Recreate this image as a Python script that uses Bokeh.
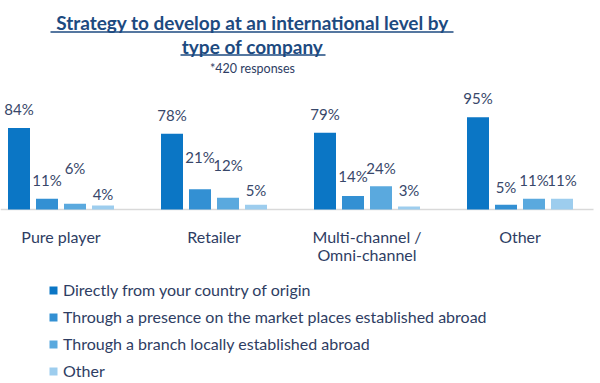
from bokeh.plotting import figure
from bokeh.models import (ColumnDataSource, Range1d, Legend, LegendItem)
from bokeh.core.properties import value
from bokeh.embed import file_html
from bokeh.resources import INLINE

# ---- data ----
companies = ["Pure player", "Retailer", "Multi-channel /\nOmni-channel", "Other"]
series_names = ["Directly from your country of origin",
                "Through a presence on the market places established abroad",
                "Through a branch locally established abroad",
                "Other"]
direct = [84, 78, 79, 95]
market_places = [11, 21, 14, 5]
branch = [6, 12, 24, 11]
other = [4, 5, 3, 11]
series_values = [direct, market_places, branch, other]
title_lines = ["Strategy to develop at an international level by", "type of company"]
subtitle = "*420 responses"

# ---- style / layout ----
colors = ["#0b76c5", "#3390d3", "#5aa9de", "#9dcdee"]
label_lift_px = [[19, 19, 19, 19],
                 [19, 32, 20, 18],
                 [36, 33, 18, 19],
                 [12, 15, 17, 19]]
FONT = "Lato"
TEXT_COLOR = "#2e3d63"
LABEL_COLOR = "#38476a"
TITLE_COLOR = "#1d4a80"

W, H = 600, 383            # canvas == frame, placed at page (0, 0)
PX_PER_X = 153.0           # pixels per category
PX_PER_PCT = 0.97          # pixels per percentage point
BASE_PAGE_Y = 209          # page y of the bars' baseline
FIRST_GROUP_PAGE_X = 60.5  # page x of first category centre
CAT_FIRST_DY = 27          # px from baseline to first category-label line centre
CAT_LINE_DY = 18           # px between category-label lines

x0 = -FIRST_GROUP_PAGE_X / PX_PER_X
y0 = -(H - BASE_PAGE_Y) / PX_PER_PCT
y1 = BASE_PAGE_Y / PX_PER_PCT


def page_x(px):
    return x0 + px / PX_PER_X


def page_y(py):
    return (BASE_PAGE_Y - py) / PX_PER_PCT


bar_pitch = 28 / PX_PER_X
bar_w = 22 / PX_PER_X

p = figure(width=W, height=H, output_backend="svg", toolbar_location=None,
           x_range=Range1d(x0, x0 + W / PX_PER_X), y_range=Range1d(y0, y1),
           x_axis_location=None, y_axis_location=None,
           min_border=0, outline_line_color=None)
p.xgrid.visible = False
p.ygrid.visible = False
p.background_fill_color = None
p.border_fill_color = None

# baseline
p.segment(x0=[page_x(0)], x1=[page_x(593)], y0=[0], y1=[0],
          line_color="#d9d9d9", line_width=1.5)

items = []
for k, vals in enumerate(series_values):
    xs = [i + (k - 1.5) * bar_pitch for i in range(len(companies))]
    src = ColumnDataSource(dict(x=xs, top=vals,
                                label=[f"{v}%" for v in vals],
                                dy=[-d for d in label_lift_px[k]]))
    r = p.vbar(x="x", top="top", width=bar_w, source=src,
               fill_color=colors[k], line_color=None)
    p.text(x="x", y="top", text="label", source=src, y_offset="dy",
           text_align="center", text_baseline="middle",
           text_font=value(FONT), text_font_size="15px", text_color=LABEL_COLOR)
    items.append(LegendItem(label=series_names[k], renderers=[r]))

# category labels (tick labels), one text row per line
cx, cy, ctext, cdy = [], [], [], []
for i, name in enumerate(companies):
    for j, line in enumerate(name.split("\n")):
        cx.append(i)
        cy.append(0)
        ctext.append(line)
        cdy.append(CAT_FIRST_DY + j * CAT_LINE_DY)
cat_src = ColumnDataSource(dict(x=cx, y=cy, text=ctext, dy=cdy))
p.text(x="x", y="y", text="text", source=cat_src, y_offset="dy",
       text_align="center", text_baseline="middle",
       text_font=value(FONT), text_font_size="16px", text_color=TEXT_COLOR)

# legend
legend = Legend(items=items, location=(48, 2), orientation="vertical",
                glyph_width=10, glyph_height=10, label_height=21, spacing=6,
                padding=0, margin=0, label_standoff=5,
                label_text_font=FONT, label_text_font_size="16px",
                label_text_color=TEXT_COLOR, border_line_color=None,
                background_fill_alpha=0)
p.add_layout(legend, "center")

# title
TITLE_CX = 252
p.text(x=[page_x(TITLE_CX)] * 2, y=[page_y(22), page_y(46)], text=title_lines,
       text_align="center", text_baseline="middle",
       text_font=value(FONT), text_font_size="19px", text_font_style="bold",
       text_color=TITLE_COLOR)
p.text(x=[page_x(TITLE_CX)], y=[page_y(68)], text=[subtitle],
       text_align="center", text_baseline="middle",
       text_font=value(FONT), text_font_size="12.5px", text_color=TEXT_COLOR)
# underlines
p.segment(x0=[page_x(50), page_x(180)], x1=[page_x(453), page_x(325)],
          y0=[page_y(31.5), page_y(54.5)], y1=[page_y(31.5), page_y(54.5)],
          line_color=TITLE_COLOR, line_width=1.6)

open("out.html", "w").write(file_html(p, INLINE))
